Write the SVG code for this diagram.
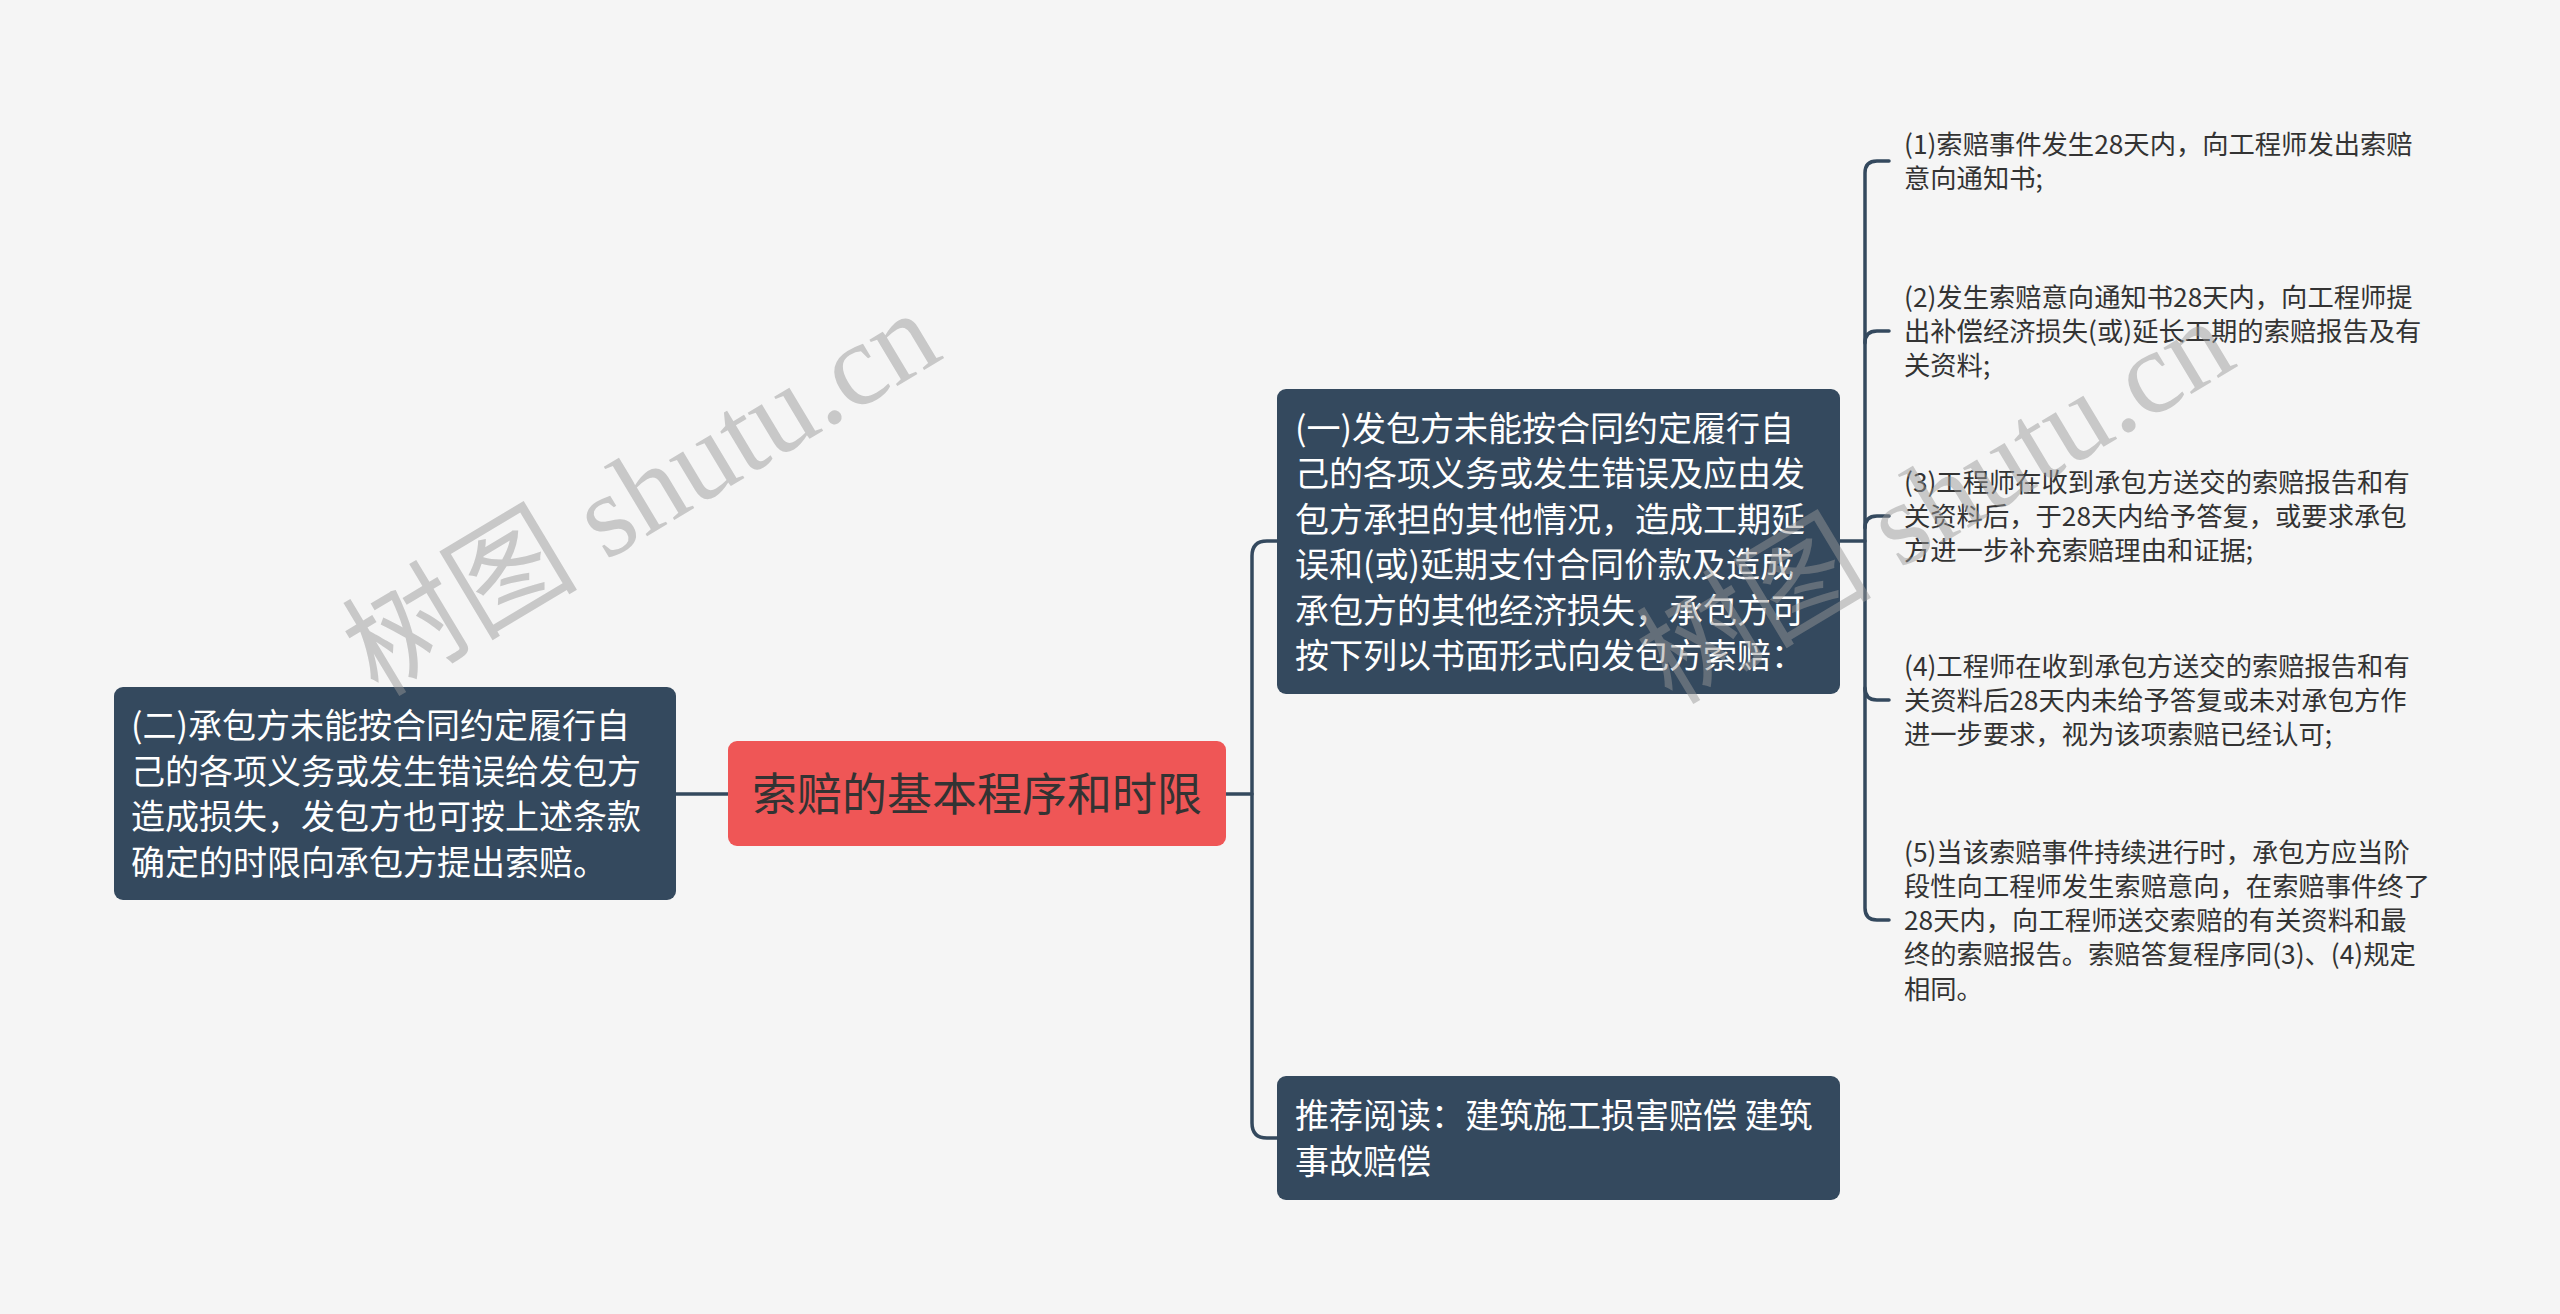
<svg xmlns="http://www.w3.org/2000/svg" width="2560" height="1314" viewBox="0 0 2560 1314">
<defs>
<style>
.bg{fill:#f5f5f5}
.dark{fill:#34495e}
.root{fill:#ef5656}
.wt{font-family:"Noto Sans CJK SC","Noto Sans",sans-serif;font-size:34px;fill:#ffffff}
.rt{font-family:"Noto Sans CJK SC","Noto Sans",sans-serif;font-size:45px;fill:#333333}
.lt{font-family:"Noto Sans CJK SC","Noto Sans",sans-serif;font-size:26.3px;fill:#333333}
.conn{fill:none;stroke:#34495e;stroke-width:3.5;stroke-linecap:round}
.wm{font-family:"Liberation Serif","Noto Sans CJK SC",serif;font-size:118px;fill:#979797;fill-opacity:0.48}
</style>
</defs>
<rect class="bg" x="0" y="0" width="2560" height="1314"/>
<g id="connectors">
<path class="conn" d="M676,794 H728"/>
<path class="conn" d="M1226,794 H1252"/>
<path class="conn" d="M1277,541 H1267 Q1252,541 1252,556 V1123 Q1252,1138 1267,1138 H1277"/>
<path class="conn" d="M1840,541 H1865"/>
<path class="conn" d="M1889,161 H1877 Q1865,161 1865,173 V908 Q1865,920 1877,920 H1889"/>
<path class="conn" d="M1865,343 Q1865,331 1877,331 H1889"/>
<path class="conn" d="M1865,528 Q1865,516 1877,516 H1889"/>
<path class="conn" d="M1865,688 Q1865,700 1877,700 H1889"/>
</g>
<g id="root">
<rect class="root" x="728" y="741" width="498" height="105" rx="9"/>
<text class="rt" x="977" y="811" text-anchor="middle">索赔的基本程序和时限</text>
</g>
<g id="node-left">
<rect class="dark" x="114" y="687" width="562" height="213" rx="9"/>
<text class="wt" x="131" y="738">(二)承包方未能按合同约定履行自</text>
<text class="wt" x="131" y="784">己的各项义务或发生错误给发包方</text>
<text class="wt" x="131" y="829">造成损失，发包方也可按上述条款</text>
<text class="wt" x="131" y="875">确定的时限向承包方提出索赔。</text>
</g>
<g id="node-1">
<rect class="dark" x="1277" y="389" width="563" height="305" rx="9"/>
<text class="wt" x="1295" y="441">(一)发包方未能按合同约定履行自</text>
<text class="wt" x="1295" y="486">己的各项义务或发生错误及应由发</text>
<text class="wt" x="1295" y="532">包方承担的其他情况，造成工期延</text>
<text class="wt" x="1295" y="577">误和(或)延期支付合同价款及造成</text>
<text class="wt" x="1295" y="623">承包方的其他经济损失，承包方可</text>
<text class="wt" x="1295" y="668">按下列以书面形式向发包方索赔：</text>
</g>
<g id="node-3">
<rect class="dark" x="1277" y="1076" width="563" height="124" rx="9"/>
<text class="wt" x="1295" y="1128">推荐阅读：建筑施工损害赔偿 建筑</text>
<text class="wt" x="1295" y="1174">事故赔偿</text>
</g>
<g id="leaf-1">
<text class="lt" x="1904" y="154">(1)索赔事件发生28天内，向工程师发出索赔</text>
<text class="lt" x="1904" y="188">意向通知书;</text>
</g>
<g id="leaf-2">
<text class="lt" x="1904" y="307">(2)发生索赔意向通知书28天内，向工程师提</text>
<text class="lt" x="1904" y="341">出补偿经济损失(或)延长工期的索赔报告及有</text>
<text class="lt" x="1904" y="375">关资料;</text>
</g>
<g id="leaf-3">
<text class="lt" x="1904" y="492">(3)工程师在收到承包方送交的索赔报告和有</text>
<text class="lt" x="1904" y="526">关资料后，于28天内给予答复，或要求承包</text>
<text class="lt" x="1904" y="560">方进一步补充索赔理由和证据;</text>
</g>
<g id="leaf-4">
<text class="lt" x="1904" y="676">(4)工程师在收到承包方送交的索赔报告和有</text>
<text class="lt" x="1904" y="710">关资料后28天内未给予答复或未对承包方作</text>
<text class="lt" x="1904" y="744">进一步要求，视为该项索赔已经认可;</text>
</g>
<g id="leaf-5">
<text class="lt" x="1904" y="862">(5)当该索赔事件持续进行时，承包方应当阶</text>
<text class="lt" x="1904" y="896">段性向工程师发生索赔意向，在索赔事件终了</text>
<text class="lt" x="1904" y="930">28天内，向工程师送交索赔的有关资料和最</text>
<text class="lt" x="1904" y="964">终的索赔报告。索赔答复程序同(3)、(4)规定</text>
<text class="lt" x="1904" y="999">相同。</text>
</g>
<g id="watermarks">
<text class="wm" transform="translate(378,698) rotate(-31)">树图 shutu.cn</text>
<text class="wm" transform="translate(1672,706) rotate(-31)">树图 shutu.cn</text>
</g>
</svg>
